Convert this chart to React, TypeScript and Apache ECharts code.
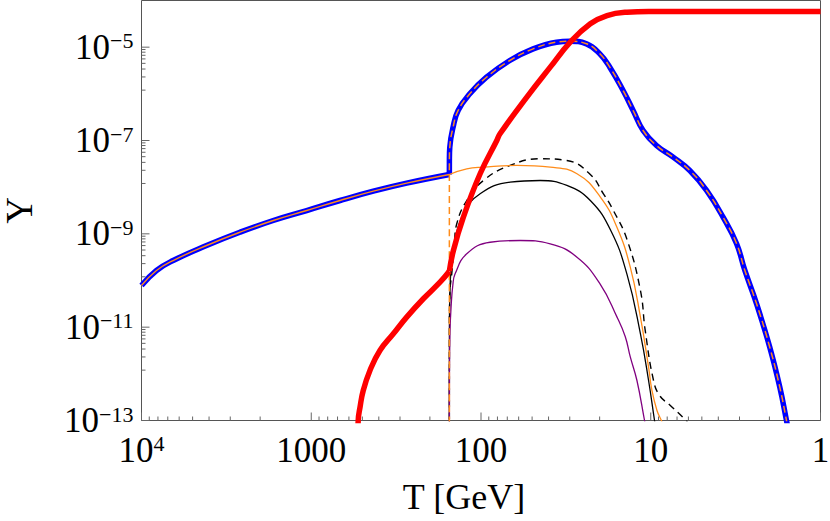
import React, { useEffect, useRef } from 'react';
import * as echarts from 'echarts';

// ---- data: [T (GeV), Y] ----
const blueLeft: number[][] = [
  [10000, 7.8e-11], [8159, 1.64e-10], [6512, 2.68e-10], [4137, 5.62e-10], [2633, 1.08e-9],
  [1675, 1.93e-9], [1064, 3.16e-9], [677, 5.18e-9], [431, 8.2e-9], [274, 1.22e-8], [153.6, 1.87e-8],
];
const blueRight: number[][] = [
  [153.6, 1.87e-8], [153.5, 4e-8], [152.7, 7.2e-8], [146.0, 1.93e-7], [136.4, 4.4e-7], [116.4, 1.0e-6],
  [92.8, 2.27e-6], [67.7, 5.18e-6], [49.3, 9.2e-6], [35.9, 1.28e-5], [30.0, 1.34e-5], [23.9, 1.18e-5],
  [19.95, 7.2e-6], [17.43, 3.73e-6], [14.55, 1.18e-6], [12.7, 4.4e-7], [11.09, 1.64e-7], [9.25, 7.8e-8],
  [7.38, 4.4e-8], [5.89, 2.28e-8], [4.69, 8.5e-9], [3.75, 2.28e-9], [3.12, 6.12e-10], [2.79, 1.64e-10],
  [2.38, 3.17e-11], [1.99, 3.72e-12], [1.737, 5.18e-13], [1.586, 1e-13], [1.547, 6.1e-14],
];
const orangeRight: number[][] = [
  [153.6, 1.87e-8], [121.3, 2.47e-8], [96.8, 2.68e-8], [61.5, 2.92e-8], [39.1, 2.68e-8], [27.2, 1.94e-8],
  [19.9, 6.3e-9], [15.8, 1.37e-9], [13.2, 1.93e-10], [11.5, 1.64e-11], [10.3, 1.39e-12], [9.84, 4.4e-13],
  [9.19, 1.64e-13], [8.71, 1.05e-13], [8.43, 8e-14],
];
const orangeDashStart: number[][] = [[153.6, 1e-14]];
const redLow: number[][] = [
  [532, 3e-14], [529, 1e-13], [516, 1.93e-13], [494, 4.4e-13], [451, 1.18e-12], [394, 3.16e-12],
  [328.5, 7.2e-12], [274, 1.64e-11], [218.6, 4.06e-11], [174.3, 9.2e-11], [153.6, 1.58e-10],
];
const redHigh: number[][] = [
  [153.6, 1.58e-10], [145.4, 4.4e-10], [127, 2.28e-9], [101.2, 1.94e-8], [80.7, 1e-7], [77.1, 1.41e-7],
  [53.7, 8.5e-7], [39.1, 3.73e-6], [29.8, 1.28e-5], [22.7, 3.17e-5], [18.1, 4.77e-5], [13.8, 5.61e-5],
  [10.07, 5.81e-5], [7, 5.82e-5], [1, 5.82e-5],
];
const blackDashed: number[][] = [
  [153.6, 1e-14], [153.5, 1e-11], [152.3, 6e-11], [148.7, 1.39e-10], [143.5, 6e-10], [138.9, 1.64e-9],
  [121.3, 5.18e-9], [96.8, 1.39e-8], [67.4, 2.92e-8], [44.8, 4.06e-8], [31.2, 3.73e-8], [22.7, 1.87e-8],
  [19.0, 7.2e-9], [16.6, 3.16e-9], [13.8, 7.57e-10], [11.5, 6.1e-11], [10.78, 8.5e-12], [9.63, 7.2e-13],
  [8.87, 3.43e-13], [7.67, 2.1e-13], [6.26, 1.04e-13], [6.01, 8.7e-14],
];
const blackSolid: number[][] = [
  [153.6, 1e-14], [153.5, 1e-11], [152.2, 6e-11], [150.7, 1.39e-10], [142.1, 7.2e-10], [127, 2.68e-9],
  [101.2, 7.2e-9], [67.4, 1.28e-8], [44.8, 1.39e-8], [31.2, 1.09e-8], [22.7, 5.18e-9], [17.2, 1.18e-9],
  [13.8, 1.35e-10], [11.5, 7.2e-12], [10.3, 7.2e-13], [9.5, 1e-13], [9.4, 8e-14],
];
const purple: number[][] = [
  [153.6, 1e-14], [153.4, 1e-12], [152.3, 8e-12], [150.1, 2.68e-11], [146.5, 8e-11], [142.1, 1.39e-10],
  [121.3, 3.73e-10], [88.4, 6.6e-10], [58.8, 7.2e-10], [39.1, 6.1e-10], [27.2, 3.16e-10], [19.9, 8.5e-11],
  [15.8, 1.64e-11], [14.14, 6.3e-12], [13.2, 2.3e-12], [12.06, 7.2e-13], [10.88, 1e-13], [10.75, 8e-14],
];

// ---- axes / ticks ----
const X_MIN = 1;
const X_MAX = 10000;
const Y_MIN = 1e-13;
const Y_MAX = 1e-4;
const xMajorTicks = [10000, 1000, 100, 10, 1];
const xMinorTicks = [
  9000, 8000, 7000, 6000, 5000, 4000, 3000, 2000,
  900, 800, 700, 600, 500, 400, 300, 200,
  90, 80, 70, 60, 50, 40, 30, 20,
  9, 8, 7, 6, 5, 4, 3, 2,
];
const yMajorTicks = [1e-5, 1e-7, 1e-9, 1e-11, 1e-13];
const yMinorTicks = [
  1.2e-6, 2.3e-6, 3.4e-6, 4.5e-6, 5.6e-6, 6.7e-6, 7.8e-6, 8.9e-6,
  1.2e-8, 2.3e-8, 3.4e-8, 4.5e-8, 5.6e-8, 6.7e-8, 7.8e-8, 8.9e-8,
  1.2e-10, 2.3e-10, 3.4e-10, 4.5e-10, 5.6e-10, 6.7e-10, 7.8e-10, 8.9e-10,
  1.2e-12, 2.3e-12, 3.4e-12, 4.5e-12, 5.6e-12, 6.7e-12, 7.8e-12, 8.9e-12,
];

const FONT = '"Liberation Serif", "Times New Roman", serif';
const BLUE = '#0000FF';
const RED = '#FF0000';
const ORANGE = '#FF8C1A';
const PURPLE = '#800080';
const TICK = '#666666';

function lineSeries(data: number[][], color: string, width: number, dash?: number[]) {
  return {
    type: 'line',
    data,
    showSymbol: false,
    symbol: 'none',
    smooth: 0.45,
    silent: true,
    clip: true,
    lineStyle: { color, width, type: dash ? dash : 'solid', cap: 'butt', join: 'round' },
  };
}

function tickSeries(values: number[], axis: 'x' | 'y', len: number) {
  return {
    type: 'custom',
    silent: true,
    data: values.map((v) => (axis === 'x' ? [v, Y_MIN] : [X_MAX, v])),
    renderItem: (_p: any, api: any) => {
      const pt = api.coord([api.value(0), api.value(1)]);
      const shape =
        axis === 'x'
          ? { x1: pt[0], y1: pt[1], x2: pt[0], y2: pt[1] - len }
          : { x1: pt[0], y1: pt[1], x2: pt[0] + len, y2: pt[1] };
      return { type: 'line', shape, style: { stroke: TICK, lineWidth: 1 } };
    },
    z: 10,
  };
}

export default function App() {
  const ref = useRef<HTMLDivElement>(null);
  useEffect(() => {
    document.body.style.margin = '0';
    const chart = echarts.init(ref.current!, null, { renderer: 'svg' });
    const rich = {
      b: { fontSize: 35, fontFamily: FONT, color: '#000', lineHeight: 35 },
      s: { fontSize: 22, fontFamily: FONT, color: '#000', lineHeight: 22, verticalAlign: 'top' },
    };
    chart.setOption({
      animation: false,
      backgroundColor: '#fff',
      grid: {
        left: 141.5,
        top: 0.5,
        width: 679,
        height: 420,
        show: true,
        borderColor: '#555',
        borderWidth: 1,
        containLabel: false,
        outerBoundsMode: 'none',
      },
      xAxis: {
        type: 'log',
        logBase: 10,
        min: X_MIN,
        max: X_MAX,
        inverse: true,
        name: 'T [GeV]',
        nameLocation: 'middle',
        nameGap: 58,
        nameTextStyle: { fontSize: 36, fontFamily: FONT, color: '#000', padding: [0, 34, 0, 0] },
        axisLine: { show: false },
        axisTick: { show: false },
        splitLine: { show: false },
        axisLabel: {
          interval: 0,
          showMinLabel: true,
          showMaxLabel: true,
          margin: 12,
          fontSize: 35,
          fontFamily: FONT,
          color: '#000',
          rich,
          formatter: (v: number) => {
            const e = Math.round(Math.log10(v));
            if (e === 4) return '{b|10}{s|4}';
            return String(Math.round(v));
          },
        },
      },
      yAxis: {
        type: 'log',
        logBase: 10,
        min: Y_MIN,
        max: Y_MAX,
        name: 'Y',
        nameLocation: 'middle',
        nameGap: 104,
        nameTextStyle: { fontSize: 37, fontFamily: FONT, color: '#000' },
        axisLine: { show: false },
        axisTick: { show: false },
        splitLine: { show: false },
        axisLabel: {
          interval: 0,
          showMinLabel: true,
          showMaxLabel: true,
          margin: 8,
          fontSize: 35,
          fontFamily: FONT,
          color: '#000',
          rich,
          formatter: (v: number) => {
            const e = Math.round(Math.log10(v));
            if (e % 2 === 0) return '';
            return '{b|10}{s|\u2212' + String(-e) + '}';
          },
        },
      },
      series: [
        lineSeries(blueLeft, BLUE, 5.5),
        lineSeries(blueRight, BLUE, 5.5),
        lineSeries(blueLeft, ORANGE, 1.4),
        lineSeries(blackDashed, '#000', 1.4, [7, 5]),
        lineSeries(orangeRight, ORANGE, 1.3),
        lineSeries(blackSolid, '#000', 1.3),
        lineSeries(purple, PURPLE, 1.3),
        lineSeries(orangeDashStart.concat(blueRight), ORANGE, 1.5, [7, 4]),
        lineSeries(redLow, RED, 5.5),
        lineSeries(redHigh, RED, 5.5),
        tickSeries(xMajorTicks, 'x', 8),
        tickSeries(xMinorTicks, 'x', 4),
        tickSeries(yMajorTicks, 'y', 8),
        tickSeries(yMinorTicks, 'y', 4),
      ],
    });
    return () => chart.dispose();
  }, []);
  return <div ref={ref} style={{ width: 830, height: 521 }} />;
}
